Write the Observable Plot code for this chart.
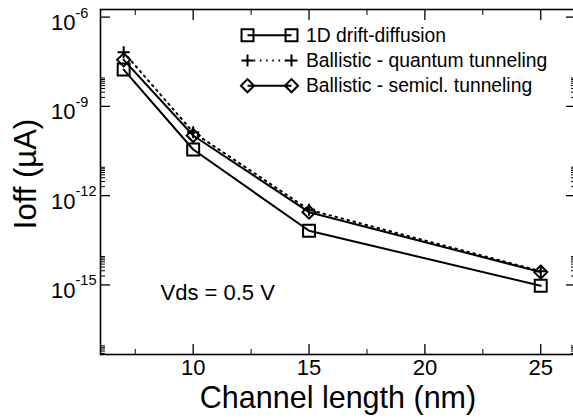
<!DOCTYPE html>
<html><head><meta charset="utf-8">
<script src="https://cdn.jsdelivr.net/npm/d3@7"></script>
<script src="https://cdn.jsdelivr.net/npm/@observablehq/plot@0.6"></script>
<style>body{margin:0;background:#fff} #chart{position:relative;width:573px;height:419px;overflow:hidden}</style>
</head><body><div id="chart"></div>
<script>
// ---- data ----
const lengths = [7, 10, 15, 25];
const driftDiffusion = [1.73e-8, 3.56e-11, 6.6e-14, 9.4e-16];
const ballisticQuantum = [6.6e-8, 1.35e-10, 3.36e-13, 2.9e-15];
const ballisticSemicl = [3.66e-8, 1.05e-10, 2.79e-13, 2.7e-15];
const seriesNames = ["1D drift-diffusion", "Ballistic - quantum tunneling", "Ballistic - semicl. tunneling"];
const xMajorTicks = [10, 15, 20, 25];
const xMinorTicks = [7.5, 12.5, 17.5, 22.5];
const yMajorExponents = [-6, -9, -12, -15];
const yMinorDecades = [-9, -12, -15, -18];
const xLabel = "Channel length (nm)";
const yLabel = "Ioff (µA)";
const note = "Vds = 0.5 V";

const mk = (vals, name) => lengths.map((x, i) => ({x, y: vals[i], series: name}));
const dd = mk(driftDiffusion, seriesNames[0]);
const bq = mk(ballisticQuantum, seriesNames[1]);
const bs = mk(ballisticSemicl, seriesNames[2]);

const yDomain = [4.6e-18, 1.8e-6];
const yMajor = yMajorExponents.map(e => 10 ** e);
const yMinor = yMinorDecades.flatMap(d => d3.range(2, 10).map(k => k * 10 ** d))
  .filter(v => v >= yDomain[0] && v <= yDomain[1]);

const font = "Liberation Sans, Arial, Helvetica, sans-serif";
const sq = {symbol: "square2", r: 7.6, fill: "none", stroke: "black", strokeWidth: 2};
const pl = {symbol: "plus", r: 4, fill: "none", stroke: "black", strokeWidth: 2};
const di = {symbol: "diamond2", r: 5.9, fill: "none", stroke: "black", strokeWidth: 2};

const axisCommon = {tickFormat: () => "", label: null, stroke: "black"};
const txt = {fill: "black", lineAnchor: "bottom"};

const plot = Plot.plot({
  width: 573,
  height: 419,
  marginLeft: 100,
  marginRight: -2,
  marginTop: 9,
  marginBottom: 65,
  style: {fontFamily: font, background: "white", color: "black", overflow: "visible"},
  x: {domain: [6, 26.5], axis: null},
  y: {type: "log", domain: yDomain, axis: null},
  marks: [
    Plot.axisX({...axisCommon, ticks: xMajorTicks, anchor: "bottom", tickSize: -10, strokeWidth: 1.3}),
    Plot.axisX({...axisCommon, ticks: xMinorTicks, anchor: "bottom", tickSize: -5, strokeWidth: 1}),
    Plot.axisX({...axisCommon, ticks: xMajorTicks, anchor: "top", tickSize: -10, strokeWidth: 1.3}),
    Plot.axisX({...axisCommon, ticks: xMinorTicks, anchor: "top", tickSize: -5, strokeWidth: 1}),
    Plot.axisY({...axisCommon, ticks: yMajor, anchor: "left", tickSize: -10, strokeWidth: 1.3}),
    Plot.axisY({...axisCommon, ticks: yMinor, anchor: "left", tickSize: -5, strokeWidth: 1}),
    Plot.axisY({...axisCommon, ticks: yMajor, anchor: "right", tickSize: -10, strokeWidth: 1.3}),
    Plot.axisY({...axisCommon, ticks: yMinor, anchor: "right", tickSize: -5, strokeWidth: 1}),
    Plot.frame({stroke: "black", strokeWidth: 1.6}),
    Plot.text(xMajorTicks, {...txt, x: d => d, text: d => String(d), frameAnchor: "bottom", dy: 20.5, fontSize: 22}),
    Plot.text(yMajorExponents, {...txt, y: e => 10 ** e, text: () => "10", frameAnchor: "left", textAnchor: "end", dx: -25, dy: 13, fontSize: 22}),
    Plot.text(yMajorExponents, {...txt, y: e => 10 ** e, text: e => String(e), frameAnchor: "left", textAnchor: "start", dx: -25, dy: 0.5, fontSize: 14.5}),
    Plot.text([xLabel], {...txt, text: d => d, frameAnchor: "bottom", dy: 53, fontSize: 30.5}),
    Plot.text([note], {...txt, text: d => d, frameAnchor: "bottom-left", dx: 60, dy: -55, textAnchor: "start", fontSize: 22}),
    Plot.line(dd, {x: "x", y: "y", stroke: "black", strokeWidth: 2}),
    Plot.line(bq, {x: "x", y: "y", stroke: "black", strokeWidth: 2, strokeDasharray: "1.6 4.6"}),
    Plot.line(bs, {x: "x", y: "y", stroke: "black", strokeWidth: 2}),
    Plot.dot(dd, {x: "x", y: "y", ...sq}),
    Plot.dot(bq, {x: "x", y: "y", ...pl}),
    Plot.dot(bs, {x: "x", y: "y", ...di})
  ]
});

document.getElementById("chart").appendChild(plot);

// ---- y-axis title (rotated) ----
d3.select(plot).append("text")
  .attr("transform", "translate(36,174) rotate(-90)")
  .attr("text-anchor", "middle").attr("font-family", font).attr("font-size", 31)
  .attr("fill", "black").text(yLabel);

// ---- legend (annotation inside the plot area) ----
const legendRows = [
  {name: seriesNames[0], sym: d3.symbolSquare2, r: 7.6, dash: null},
  {name: seriesNames[1], sym: d3.symbolPlus, r: 4, dash: "1.6 4.6"},
  {name: seriesNames[2], sym: d3.symbolDiamond2, r: 5.9, dash: null}
];
const lg = d3.select(plot).append("g").attr("font-family", font).attr("font-size", 19.3).attr("text-anchor", "start");
const lx1 = 247.5, lx2 = 291.5, ltx = 306, ly0 = 35.3, lstep = 25.2;
legendRows.forEach((row, i) => {
  const y = ly0 + i * lstep;
  lg.append("line").attr("x1", lx1).attr("x2", lx2).attr("y1", y).attr("y2", y)
    .attr("stroke", "black").attr("stroke-width", 2).attr("stroke-dasharray", row.dash);
  const path = d3.symbol(row.sym, Math.PI * row.r * row.r)();
  [lx1, lx2].forEach(x => lg.append("path").attr("d", path).attr("transform", `translate(${x},${y})`)
    .attr("fill", "none").attr("stroke", "black").attr("stroke-width", 2));
  lg.append("text").attr("x", ltx).attr("y", y).attr("dy", "0.35em").attr("fill", "black").attr("text-anchor", "start").text(row.name);
});
</script>
</body></html>
